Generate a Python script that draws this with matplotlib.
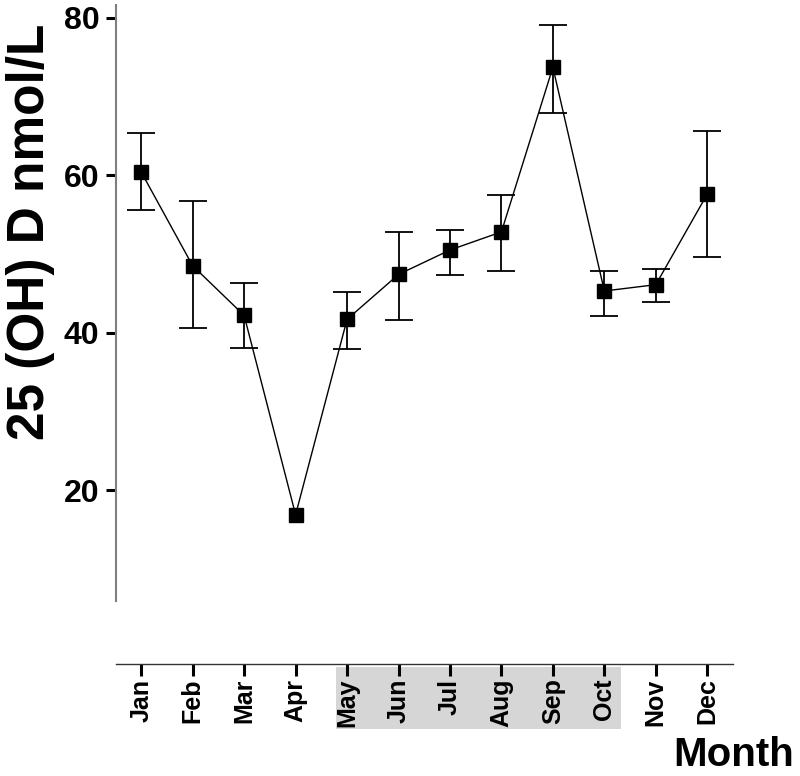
import numpy as np
import matplotlib
matplotlib.use("Agg")
import matplotlib.pyplot as plt
from matplotlib.patches import Rectangle
import matplotlib.transforms as mtransforms

plt.rcParams['font.family'] = ['Liberation Sans', 'DejaVu Sans']
plt.rcParams['font.weight'] = 'bold'

months = ['Jan', 'Feb', 'Mar', 'Apr', 'May', 'Jun',
          'Jul', 'Aug', 'Sep', 'Oct', 'Nov', 'Dec']
mean_vals = [60.4, 48.5, 42.2, 16.9, 41.7, 47.4, 50.5, 52.8, 73.7, 45.3, 46.1, 57.6]
upper_vals = [65.3, 56.7, 46.3, None, 45.2, 52.8, 53.0, 57.5, 79.0, 47.9, 48.1, 65.6]
lower_vals = [55.6, 40.6, 38.1, None, 37.9, 41.6, 47.3, 47.9, 67.9, 42.1, 43.9, 49.6]
y_ticks = [20, 40, 60, 80]
shaded_months = ['May', 'Oct']

W, H = 800, 776
fig = plt.figure(figsize=(W / 100, H / 100), dpi=100)
ax = fig.add_axes([116 / W, 1 - 601 / H, (733 - 116) / W, (601 - 5) / H])
ax.set_facecolor('none')

x = np.arange(len(months))
mean = np.array(mean_vals, dtype=float)
up = np.array([np.nan if v is None else v for v in upper_vals], dtype=float)
lo = np.array([np.nan if v is None else v for v in lower_vals], dtype=float)
has_err = ~np.isnan(up)

ax.errorbar(x[has_err], mean[has_err],
            yerr=[mean[has_err] - lo[has_err], up[has_err] - mean[has_err]],
            fmt='none', ecolor='black', elinewidth=1.3, capsize=10,
            capthick=1.3, zorder=2)
ax.plot(x, mean, '-', color='black', lw=1.0, zorder=3)
ax.plot(x, mean, 's', color='black', ms=10, zorder=4)

ax.set_xlim(-0.49, 11.5)
ax.set_ylim(5.95, 81.6)

ax.set_yticks(y_ticks)
ax.set_yticklabels([str(v) for v in y_ticks])
ax.set_xticks(x)
ax.set_xticklabels(months)

for s in ['top', 'right']:
    ax.spines[s].set_visible(False)
ax.spines['left'].set_color('#7f7f7f')
ax.spines['left'].set_linewidth(1.5)
ax.spines['bottom'].set_position(('outward', 63 * 72 / 100))
ax.spines['bottom'].set_color('#333333')
ax.spines['bottom'].set_linewidth(1.0)

ax.tick_params(axis='y', labelsize=23, width=2.2, length=7, pad=5, colors='black')
ax.tick_params(axis='x', labelsize=18, width=2.2, length=8.5, pad=2,
               colors='black', labelrotation=90)
for lab in ax.get_xticklabels() + ax.get_yticklabels():
    lab.set_fontweight('bold')

# grey band behind the May-Oct labels
i0 = months.index(shaded_months[0])
i1 = months.index(shaded_months[1])
trans = mtransforms.blended_transform_factory(ax.transData, fig.transFigure)
band = Rectangle((i0 - 0.21, 1 - 729 / H), (i1 - i0) + 0.54, 62 / H,
                 transform=trans, facecolor='#d6d6d6', edgecolor='none',
                 clip_on=False, zorder=0)
ax.add_patch(band)

fig.text(31 / W, 1 - 232 / H, '25 (OH) D nmol/L', rotation=90, fontsize=37,
         fontweight='bold', ha='center', va='center')
fig.text(794 / W, 1 - 766 / H, 'Month', fontsize=29, fontweight='bold',
         ha='right', va='baseline')

fig.savefig('out.png', dpi=100)
